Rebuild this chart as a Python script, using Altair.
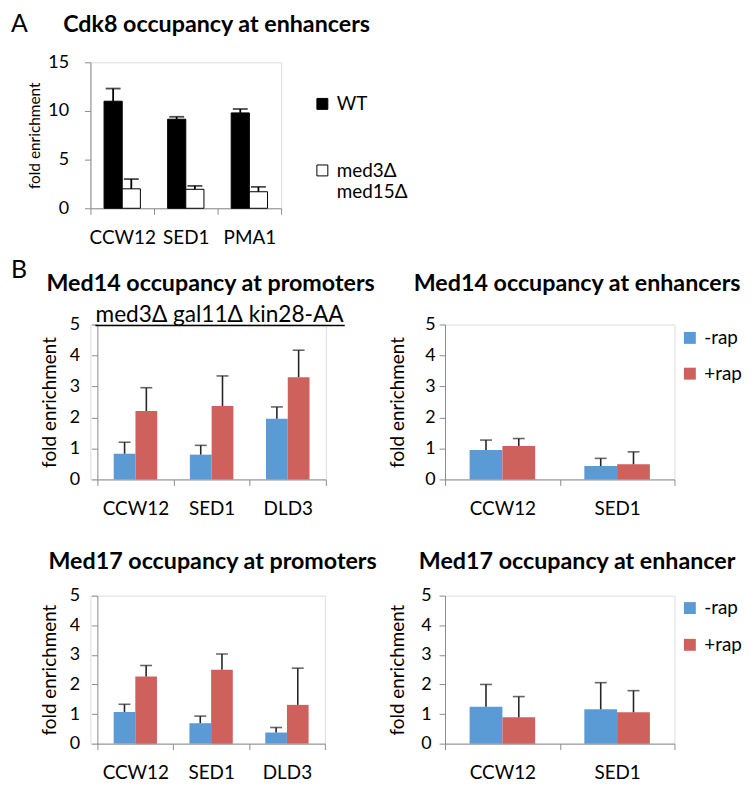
import altair as alt
import pandas as pd

FONT = "Lato"
BLACK = "#000000"
AXIS_GRAY = "#8C8C8C"
ERR_B = "#262626"
BLUE = "#5B9BD5"
RED = "#CF615D"

# ---------------- Panel A data ----------------
a_letter = "A"
a_title = "Cdk8 occupancy at enhancers"
a_genes = ["CCW12", "SED1", "PMA1"]
a_strains = ["WT", "med3Δ med15Δ"]
a_wt = [11.0, 9.15, 9.8]
a_wt_err = [1.3, 0.25, 0.4]
a_mut = [2.0, 1.95, 1.7]
a_mut_err = [1.0, 0.35, 0.5]
a_yticks = [0, 5, 10, 15]

# ---------------- Panel B data ----------------
b_letter = "B"
treatments = ["-rap", "+rap"]
strain_label = "med3Δ gal11Δ kin28-AA"
b_yticks = [0, 1, 2, 3, 4, 5]
y_title = "fold enrichment"

m14p_title = "Med14 occupancy at promoters"
m14p_genes = ["CCW12", "SED1", "DLD3"]
m14p_minus = [0.83, 0.80, 1.96]
m14p_minus_err = [0.37, 0.30, 0.38]
m14p_plus = [2.21, 2.37, 3.30]
m14p_plus_err = [0.75, 0.97, 0.87]

m14e_title = "Med14 occupancy at enhancers"
m14e_genes = ["CCW12", "SED1"]
m14e_minus = [0.95, 0.43]
m14e_minus_err = [0.32, 0.25]
m14e_plus = [1.08, 0.49]
m14e_plus_err = [0.24, 0.40]

m17p_title = "Med17 occupancy at promoters"
m17p_genes = ["CCW12", "SED1", "DLD3"]
m17p_minus = [1.07, 0.69, 0.375]
m17p_minus_err = [0.26, 0.24, 0.17]
m17p_plus = [2.27, 2.50, 1.31]
m17p_plus_err = [0.37, 0.53, 1.24]

m17e_title = "Med17 occupancy at enhancer"
m17e_genes = ["CCW12", "SED1"]
m17e_minus = [1.25, 1.16]
m17e_minus_err = [0.75, 0.90]
m17e_plus = [0.89, 1.06]
m17e_plus_err = [0.70, 0.73]


def make_df(genes, groups, series, errors):
    rows = []
    for grp, vals, errs in zip(groups, series, errors):
        for gene, v, e in zip(genes, vals, errs):
            rows.append({"gene": gene, "group": grp, "value": v, "upper": v + e})
    return pd.DataFrame(rows)


def text_layer(text, x, y, size, bold=False, align="center"):
    return alt.Chart(pd.DataFrame({"t": [text]})).mark_text(
        font=FONT, fontSize=size, fontWeight="bold" if bold else "normal",
        align=align, baseline="alphabetic", color=BLACK
    ).encode(text="t:N", x=alt.value(x), y=alt.value(y))


def panel(df, genes, groups, ymax, yticks, width, height, *, kind,
          ytitle_size, ytitle_x, ylabel_pad, cap_size, err_color, err_width,
          legend, extra_layers, shift=0):
    """shift: pixels by which the plot area is pushed right inside its cell."""
    x_axis = alt.Axis(labelAngle=0, tickBand="extent", domainColor=AXIS_GRAY,
                      tickColor=AXIS_GRAY, tickSize=6, tickWidth=1, domainWidth=1,
                      labelFontSize=19, labelFont=FONT, labelColor=BLACK,
                      labelBaseline="alphabetic", labelPadding=29, grid=False)
    x_scale = alt.Scale(paddingInner=0, paddingOuter=0, range=[shift, shift + width])
    x = alt.X("gene:N", sort=genes, title=None, scale=x_scale, axis=x_axis)
    xo = alt.XOffset("group:N", sort=groups,
                     scale=alt.Scale(paddingInner=0, paddingOuter=0.75))
    y_axis = alt.Axis(values=yticks, grid=False, domainColor=AXIS_GRAY,
                      tickColor=AXIS_GRAY, tickSize=6, tickWidth=1, domainWidth=1,
                      labelFontSize=18, labelFont=FONT, labelColor=BLACK,
                      labelPadding=ylabel_pad, titleFontSize=ytitle_size,
                      titleFont=FONT, titleFontWeight="normal", titleColor=BLACK,
                      titleBaseline="alphabetic", titleX=ytitle_x, titleY=height / 2,
                      titleAngle=270, titleAlign="center", offset=-shift)
    y_scale = alt.Scale(domain=[0, ymax], nice=False, zero=True)
    y_val = alt.Y("value:Q", scale=y_scale, axis=y_axis, title=y_title)
    y_up = alt.Y("upper:Q", scale=y_scale, axis=y_axis, title=y_title)

    base = alt.Chart(df)
    if kind == "A":
        bars = base.mark_bar(stroke=BLACK, strokeWidth=1).encode(
            x=x, xOffset=xo, y=y_val,
            fill=alt.Fill("group:N", sort=groups,
                          scale=alt.Scale(domain=groups, range=[BLACK, "#FFFFFF"]),
                          legend=legend))
    else:
        bars = base.mark_bar().encode(
            x=x, xOffset=xo, y=y_val,
            color=alt.Color("group:N", sort=groups,
                            scale=alt.Scale(domain=groups, range=[BLUE, RED]),
                            legend=legend))
    err = base.mark_rule(color=err_color, strokeWidth=err_width).encode(
        x=x, xOffset=xo, y=y_val, y2="upper:Q")
    cap = base.mark_tick(color=err_color, thickness=err_width, size=cap_size).encode(
        x=x, xOffset=xo, y=y_up)
    return alt.layer(bars, err, cap, *extra_layers).properties(
        width=width + shift, height=height)


# ---------------- Panel A ----------------
df_a = make_df(a_genes, a_strains, [a_wt, a_mut], [a_wt_err, a_mut_err])
legend_a = alt.Legend(
    title=None, orient="none", legendX=224, legendY=39, direction="vertical",
    symbolType="M-1,-2.2H1V-0.2H-1Z", symbolSize=121, symbolStrokeColor=BLACK,
    symbolStrokeWidth=1, labelFontSize=19, labelFont=FONT, labelColor=BLACK,
    labelBaseline="alphabetic", labelExpr="split(datum.label, ' ')",
    rowPadding=47, labelOffset=5)
chart_a = panel(df_a, a_genes, a_strains, 15, a_yticks, 192, 147, kind="A",
                ytitle_size=15.5, ytitle_x=-51, ylabel_pad=16, cap_size=15,
                err_color=BLACK, err_width=1.8, legend=legend_a,
                extra_layers=[text_layer(a_letter, -80, -30, 25, align="left"),
                              text_layer(a_title, 127, -30, 23.4, bold=True)])


def b_legend(legend_y, row_pad):
    return alt.Legend(
        title=None, orient="none", legendX=237, legendY=legend_y, direction="vertical",
        symbolType="square", symbolSize=144, symbolStrokeWidth=0,
        labelFontSize=19, labelFont=FONT, labelColor=BLACK, rowPadding=row_pad,
        labelOffset=5)


common_b = dict(kind="B", ytitle_size=19, ytitle_x=-42, cap_size=12,
                err_color=ERR_B, err_width=1.6)

S = 7  # left panels of B sit 7px right of panel A's axis
underline = alt.Chart(pd.DataFrame({"t": [strain_label]})).mark_rule(
    color=BLACK, strokeWidth=1.5).encode(x=alt.value(S - 2), x2=alt.value(S + 249), y=alt.value(1))

df_tl = make_df(m14p_genes, treatments, [m14p_minus, m14p_plus], [m14p_minus_err, m14p_plus_err])
chart_tl = panel(df_tl, m14p_genes, treatments, 5, b_yticks, 230, 156, ylabel_pad=12,
                 legend=None, shift=S,
                 extra_layers=[text_layer(b_letter, S - 87, -47, 25, align="left"),
                               text_layer(m14p_title, S + 114, -34, 23.4, bold=True),
                               text_layer(strain_label, S + 123, -3, 22.8),
                               underline],
                 **common_b)

df_tr = make_df(m14e_genes, treatments, [m14e_minus, m14e_plus], [m14e_minus_err, m14e_plus_err])
chart_tr = panel(df_tr, m14e_genes, treatments, 5, b_yticks, 231, 156, ylabel_pad=4,
                 legend=b_legend(4, 16),
                 extra_layers=[text_layer(m14e_title, 133, -34, 23.4, bold=True)],
                 **common_b)

df_bl = make_df(m17p_genes, treatments, [m17p_minus, m17p_plus], [m17p_minus_err, m17p_plus_err])
chart_bl = panel(df_bl, m17p_genes, treatments, 5, b_yticks, 229, 149, ylabel_pad=12,
                 legend=None, shift=S,
                 extra_layers=[text_layer(m17p_title, S + 116, -27, 23.4, bold=True)],
                 **common_b)

df_br = make_df(m17e_genes, treatments, [m17e_minus, m17e_plus], [m17e_minus_err, m17e_plus_err])
chart_br = panel(df_br, m17e_genes, treatments, 5, b_yticks, 231, 149, ylabel_pad=8,
                 legend=b_legend(3, 17),
                 extra_layers=[text_layer(m17e_title, 133, -27, 23.4, bold=True)],
                 **common_b)

# empty grid cell to the right of panel A
ghost = alt.Chart(pd.DataFrame({"s": [" "]})).mark_text(opacity=0, fontSize=1).encode(
    text="s:N", x=alt.value(0), y=alt.value(0)).properties(
    width=1, height=1, view=alt.ViewBackground(stroke="transparent", fill="transparent"))

chart = alt.concat(
    chart_a, ghost, chart_tl, chart_tr, chart_bl, chart_br,
    columns=2, spacing={"row": 117, "column": 120}, bounds="flush"
).resolve_scale(
    x="independent", y="independent", xOffset="independent",
    color="independent", fill="independent"
).resolve_legend(color="independent", fill="independent").properties(
    padding={"left": 2, "top": 1, "right": 0, "bottom": 0}
).configure_view(stroke="transparent", strokeWidth=0).configure(
    font=FONT, background="white")

chart.save("out.html", embed_options={"renderer": "svg", "actions": False})
